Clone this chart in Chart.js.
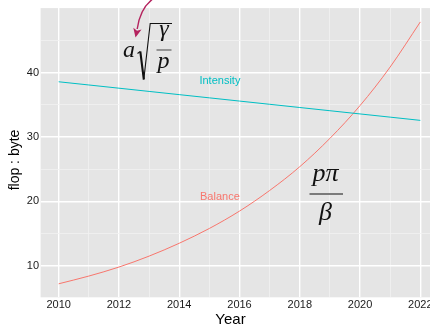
<!DOCTYPE html>
<html>
<head>
<meta charset="utf-8">
<script src="https://cdn.jsdelivr.net/npm/chart.js@4/dist/chart.umd.min.js"></script>
<style>
  html, body { margin: 0; padding: 0; background: #fff; overflow: hidden; width: 430px; height: 328px; }
  canvas { display: block; }
</style>
</head>
<body>
<canvas id="c" width="441" height="328"></canvas>
<script>
// ---- data ----
const years = [2010, 2011, 2012, 2013, 2014, 2015, 2016, 2017, 2018, 2019, 2020, 2021, 2022];
const intensity = [38.6, 38.1, 37.6, 37.1, 36.6, 36.1, 35.6, 35.1, 34.6, 34.1, 33.6, 33.1, 32.6];
const balance = [7.2, 8.4, 9.8, 11.5, 13.5, 15.8, 18.5, 21.7, 25.4, 29.8, 34.9, 40.9, 47.9];
const seriesNames = ['Intensity', 'Balance'];
const xTickLabels = ['2010', '2012', '2014', '2016', '2018', '2020', '2022'];
const xGridYears = [2010, 2011, 2012, 2013, 2014, 2015, 2016, 2017, 2018, 2019, 2020, 2021, 2022];
const yTickLabels = ['10', '20', '30', '40'];
const yGridValues = [10, 15, 20, 25, 30, 35, 40, 45];
const xTitle = 'Year';
const yTitle = 'flop : byte';

const colIntensity = '#00BFC4';
const colBalance = '#F8766D';

const annot = {
  id: 'annot',
  beforeDraw(chart) {
    const {ctx, chartArea: a} = chart;
    ctx.save();
    ctx.fillStyle = '#E5E5E5';
    ctx.fillRect(a.left, a.top, a.right - a.left, a.bottom - a.top);
    ctx.restore();
  },
  afterDraw(chart) {
    const {ctx, scales: {x, y}} = chart;
    ctx.save();
    // series labels
    ctx.font = '11px "Liberation Sans", Arial, sans-serif';
    ctx.textAlign = 'center';
    ctx.textBaseline = 'middle';
    ctx.fillStyle = colIntensity;
    ctx.fillText(seriesNames[0], x.getPixelForValue(2015.35), y.getPixelForValue(38.8));
    ctx.fillStyle = colBalance;
    ctx.fillText(seriesNames[1], x.getPixelForValue(2015.35), y.getPixelForValue(20.7));

    // axis titles
    ctx.fillStyle = '#000';
    ctx.font = '15px "Liberation Sans", Arial, sans-serif';
    ctx.fillText(xTitle, 230.5, 320);
    ctx.save();
    ctx.translate(15, 160);
    ctx.rotate(-Math.PI / 2);
    ctx.font = '14px "Liberation Sans", Arial, sans-serif';
    ctx.fillText(yTitle, 0, 0);
    ctx.restore();

    // math: a sqrt(gamma/p)
    ctx.fillStyle = '#111';
    ctx.strokeStyle = '#111';
    ctx.textBaseline = 'alphabetic';
    ctx.font = 'italic 24px "Liberation Serif", "DejaVu Serif", serif';
    ctx.fillText('a', 129, 56.5);
    ctx.fillText('\u03B3', 164, 36);
    ctx.fillText('p', 163.5, 67.5);
    // radical
    ctx.lineWidth = 1.1;
    ctx.beginPath();
    ctx.moveTo(137.5, 53.5);
    ctx.lineTo(140.3, 51.5);
    ctx.stroke();
    ctx.lineWidth = 2.1;
    ctx.beginPath();
    ctx.moveTo(140.3, 51.5);
    ctx.lineTo(143.8, 79.5);
    ctx.stroke();
    ctx.lineWidth = 1.1;
    ctx.beginPath();
    ctx.moveTo(143.8, 79.5);
    ctx.lineTo(150.2, 23.5);
    ctx.lineTo(172, 23.5);
    ctx.stroke();
    // fraction bar
    ctx.strokeStyle = '#7a7a7a';
    ctx.lineWidth = 1.5;
    ctx.beginPath();
    ctx.moveTo(156.5, 50);
    ctx.lineTo(171.5, 50);
    ctx.stroke();

    // math: p pi / beta
    ctx.fillStyle = '#111';
    ctx.font = 'italic 26px "Liberation Serif", "DejaVu Serif", serif';
    ctx.fillText('p\u03C0', 325.5, 180.5);
    ctx.fillText('\u03B2', 325.5, 219.5);
    ctx.strokeStyle = '#7a7a7a';
    ctx.lineWidth = 2;
    ctx.beginPath();
    ctx.moveTo(309.5, 194);
    ctx.lineTo(343, 194);
    ctx.stroke();

    // arrow
    const ac = '#B4235E';
    ctx.strokeStyle = ac;
    ctx.fillStyle = ac;
    ctx.lineWidth = 1.4;
    ctx.beginPath();
    ctx.moveTo(154, -2);
    ctx.quadraticCurveTo(140, 8, 137.2, 29);
    ctx.stroke();
    // head
    const tipX = 135.5, tipY = 37.5;
    const ang = Math.atan2(1, -0.22);
    const len = 9, half = 4.2;
    const bx = tipX - Math.cos(ang) * len, by = tipY - Math.sin(ang) * len;
    const px = -Math.sin(ang), py = Math.cos(ang);
    ctx.beginPath();
    ctx.moveTo(tipX, tipY);
    ctx.lineTo(bx + px * half, by + py * half);
    ctx.lineTo(bx + Math.cos(ang) * 2, by + Math.sin(ang) * 2);
    ctx.lineTo(bx - px * half, by - py * half);
    ctx.closePath();
    ctx.fill();
    ctx.restore();
  }
};

new Chart(document.getElementById('c'), {
  type: 'line',
  data: {
    datasets: [
      {
        label: seriesNames[0],
        data: years.map((yr, i) => ({x: yr, y: intensity[i]})),
        borderColor: colIntensity,
        borderWidth: 1,
        pointRadius: 0,
        fill: false
      },
      {
        label: seriesNames[1],
        data: years.map((yr, i) => ({x: yr, y: balance[i]})),
        borderColor: colBalance,
        borderWidth: 1,
        pointRadius: 0,
        cubicInterpolationMode: 'monotone',
        fill: false
      }
    ]
  },
  options: {
    responsive: false,
    animation: false,
    devicePixelRatio: 1,
    layout: { padding: { left: 0, top: 7, right: 2.6, bottom: 0 } },
    plugins: { legend: { display: false }, tooltip: { enabled: false } },
    scales: {
      x: {
        type: 'linear',
        min: 2009.4,
        max: 2022.6,
        afterBuildTicks: s => { s.ticks = xGridYears.map(v => ({value: v})); },
        afterFit: s => { s.height = 30.7; },
        border: { display: false },
        grid: {
          drawTicks: false,
          color: c => (c.tick && xTickLabels.includes(String(c.tick.value))) ? '#FFFFFF' : '#F1F1F1',
          lineWidth: c => (c.tick && xTickLabels.includes(String(c.tick.value))) ? 1.4 : 0.8
        },
        ticks: {
          autoSkip: false,
          maxRotation: 0,
          padding: 1.5,
          color: '#1a1a1a',
          font: { family: '"Liberation Sans", Arial, sans-serif', size: 11 },
          callback: v => xTickLabels.includes(String(v)) ? String(v) : ''
        }
      },
      y: {
        type: 'linear',
        min: 5.1,
        max: 50.05,
        afterBuildTicks: s => { s.ticks = yGridValues.map(v => ({value: v})); },
        afterFit: s => { s.width = 40.6; },
        border: { display: false },
        grid: {
          drawTicks: false,
          color: c => (c.tick && yTickLabels.includes(String(c.tick.value))) ? '#FFFFFF' : '#F1F1F1',
          lineWidth: c => (c.tick && yTickLabels.includes(String(c.tick.value))) ? 1.4 : 0.8
        },
        ticks: {
          autoSkip: false,
          padding: 1.5,
          color: '#1a1a1a',
          font: { family: '"Liberation Sans", Arial, sans-serif', size: 11 },
          callback: v => yTickLabels.includes(String(v)) ? String(v) : ''
        }
      }
    }
  },
  plugins: [annot]
});
</script>
</body>
</html>
